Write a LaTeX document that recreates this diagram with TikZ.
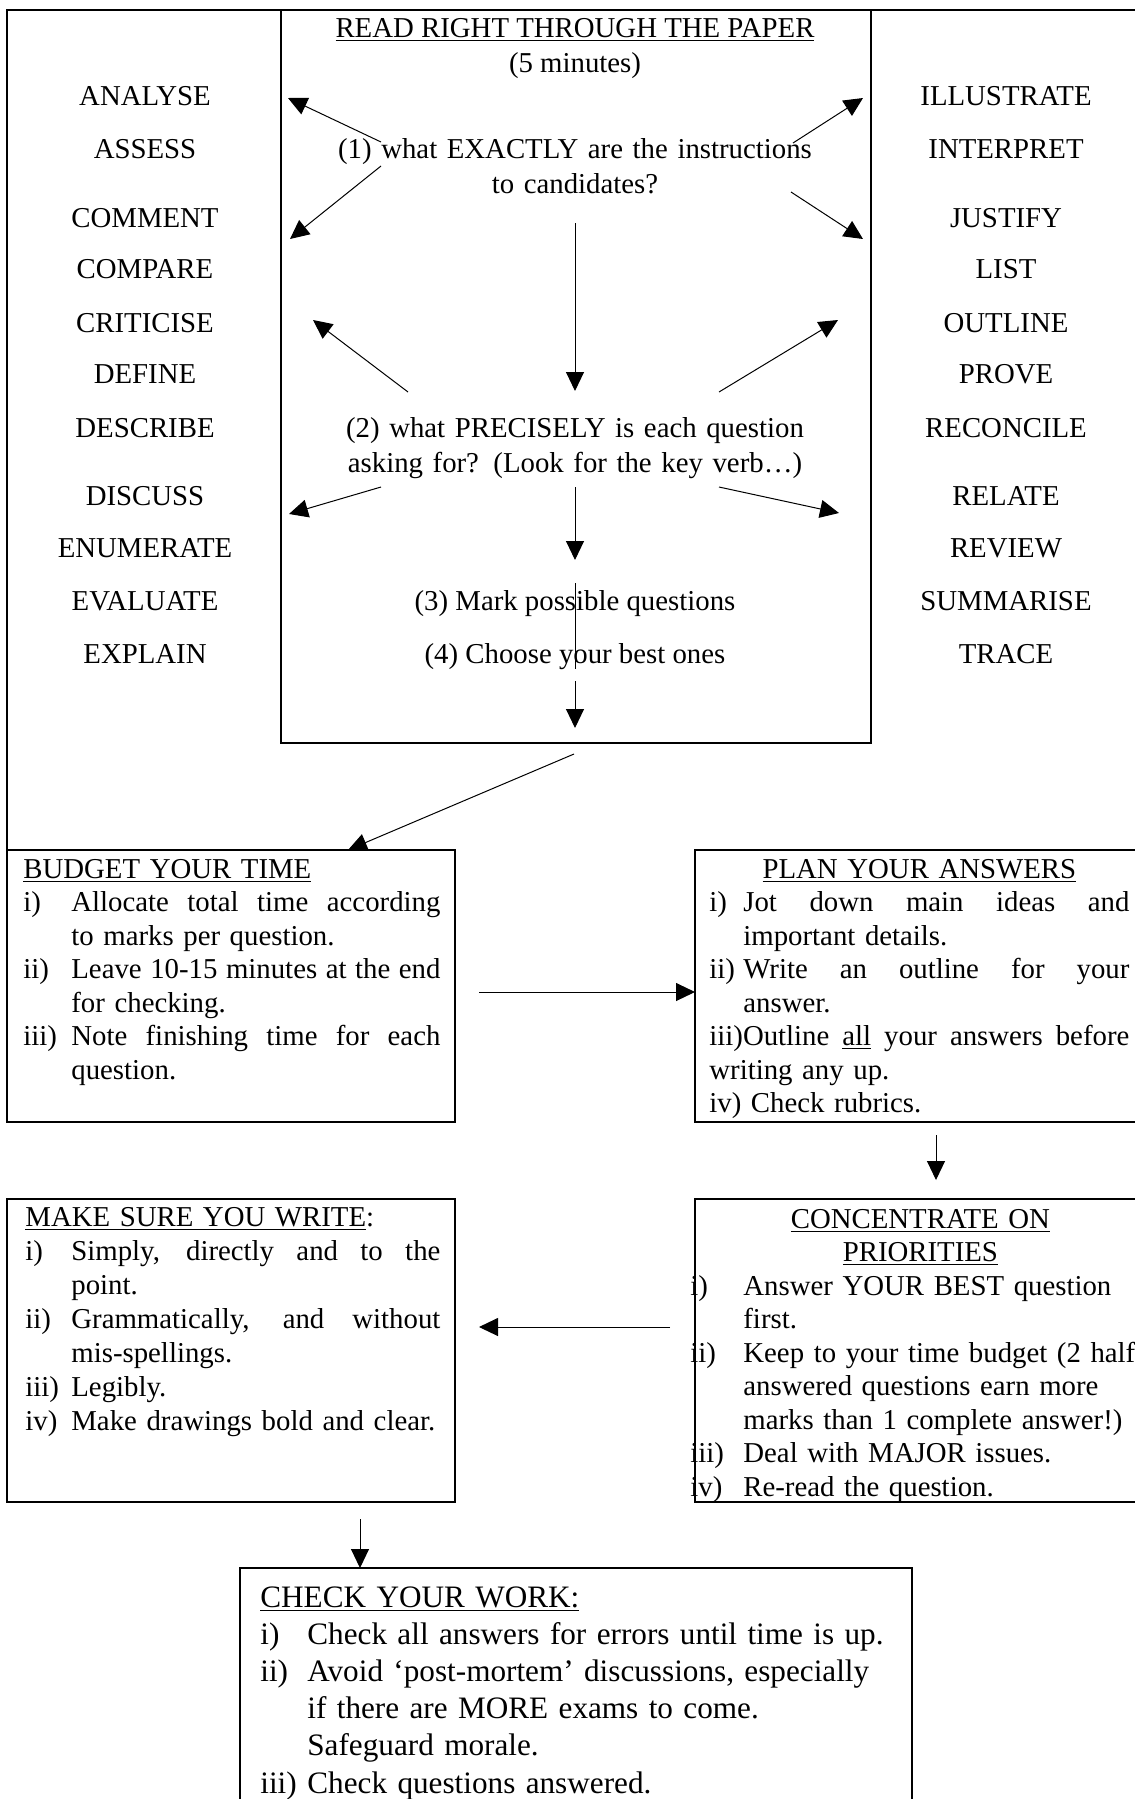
\documentclass[tikz,border=0pt]{standalone}
\usepackage{fontspec}
\setmainfont{Liberation Serif}
\usetikzlibrary{arrows.meta}
\newcommand{\lab}[2]{\makebox[#1][l]{#2}}
\newcommand{\jus}[2]{\leavevmode\hbox to #1{\spaceskip=0.25em plus 1fil\xspaceskip=\spaceskip #2}}
\tikzset{
  box/.style={draw, line width=1pt, inner sep=0pt, outer sep=0pt, anchor=north west},
  arr/.style={-{Triangle[length=9.5pt,width=9pt]}, line width=0.5pt},
  word/.style={font=\fontsize{14.4}{17.5}\selectfont, inner sep=0pt, anchor=base},
  para/.style={font=\fontsize{14.4}{16.75}\selectfont, inner sep=0pt, anchor=base west, align=left},
}
\begin{document}
\begin{tikzpicture}[x=0.5pt,y=-0.5pt]
\useasboundingbox (0,0) rectangle (1135,1799);

\node[box, minimum width=295pt, minimum height=366.5pt] (readbox) at (281,10) {};
\node[box, minimum width=224pt, minimum height=136pt] (budget) at (7,850) {};
\node[box, minimum width=222.5pt, minimum height=136pt] (plan) at (695,850) {};
\node[box, minimum width=224pt, minimum height=151.5pt] (write) at (7,1199) {};
\node[box, minimum width=222.5pt, minimum height=151.5pt] (focus) at (695,1199) {};
\node[box, minimum width=336pt, minimum height=121pt] (check) at (240,1568) {};
\draw[line width=1pt] (budget.north west) -- (7,10) -- (1140,10);

\node[word] (title) at (575,37) {\underline{READ RIGHT THROUGH THE PAPER}};
\node[word] (mins) at (575,72) {(5 minutes)};
\node[word, text width=300pt, align=center] (q1) at (575,158) {(1) what EXACTLY are the instructions\\to candidates?};
\node[word, text width=300pt, align=center] (q2) at (575,437) {(2) what PRECISELY is each question\\asking for? (Look for the key verb…)};
\node[word] (q3) at (575,610) {(3) Mark possible questions};
\node[word] (q4) at (575,663) {(4) Choose your best ones};

\foreach \w/\y in {ANALYSE/105,ASSESS/158,COMMENT/227,COMPARE/278,CRITICISE/332,DEFINE/383,DESCRIBE/437,DISCUSS/505,ENUMERATE/557,EVALUATE/610,EXPLAIN/663}
{
    \node[word] (\w) at (145,\y) {\w};
}
\foreach \w/\y in {ILLUSTRATE/105,INTERPRET/158,JUSTIFY/227,LIST/278,OUTLINE/332,PROVE/383,RECONCILE/437,RELATE/505,REVIEW/557,SUMMARISE/610,TRACE/663}
{
    \node[word] (\w) at (1006,\y) {\w};
}

\coordinate (s1) at (381,142);  \coordinate (e1) at (288,98);
\coordinate (s2) at (381,166);  \coordinate (e2) at (290,239);
\coordinate (s3) at (793,143);  \coordinate (e3) at (863,98);
\coordinate (s4) at (791,192);  \coordinate (e4) at (863,239);
\coordinate (s5) at (575,223);  \coordinate (e5) at (575,391);
\coordinate (s6) at (408,392);  \coordinate (e6) at (313,320);
\coordinate (s7) at (719,392);  \coordinate (e7) at (838,320);
\coordinate (s8) at (381,487);  \coordinate (e8) at (289,514);
\coordinate (s9) at (719,487);  \coordinate (e9) at (839,513);
\coordinate (s10) at (575,487); \coordinate (e10) at (575,560);
\coordinate (s11) at (575,681); \coordinate (e11) at (575,728);
\coordinate (s12) at (574,754); \coordinate (e12) at (348,850);
\foreach \i in {1,...,12}
{
    \draw[arr] (s\i) -- (e\i);
}
\draw[line width=0.5pt] (575,583) -- (575,669);

\node[para, text width=212pt] (budgettxt) at (23,878) {\underline{BUDGET YOUR TIME}\\
\lab{24pt}{i)}\jus{184.5pt}{Allocate total time according}\\
\lab{24pt}{}to marks per question.\\
\lab{24pt}{ii)}\jus{184.5pt}{Leave 10-15 minutes at the end}\\
\lab{24pt}{}for checking.\\
\lab{24pt}{iii)}\jus{184.5pt}{Note finishing time for each}\\
\lab{24pt}{}question.};

\node[para, text width=214pt] (plantxt) at (709,878) {\makebox[210pt]{\underline{PLAN YOUR ANSWERS}}\\
\lab{17pt}{i)}\jus{193pt}{Jot down main ideas and}\\
\lab{17pt}{}important details.\\
\lab{17pt}{ii)}\jus{193pt}{Write an outline for your}\\
\lab{17pt}{}answer.\\
\jus{210pt}{iii)Outline \underline{all} your answers before}\\
writing any up.\\
iv) Check rubrics.};

\node[para, text width=212pt, font=\fontsize{14.4}{17}\selectfont] (writetxt) at (25,1226) {\underline{MAKE SURE YOU WRITE}:\\
\lab{23pt}{i)}\jus{184.5pt}{Simply, directly and to the}\\
\lab{23pt}{}point.\\
\lab{23pt}{ii)}\jus{184.5pt}{Grammatically, and without}\\
\lab{23pt}{}mis-spellings.\\
\lab{23pt}{iii)}Legibly.\\
\lab{23pt}{iv)}Make drawings bold and clear.};

\node[para, text width=232pt] (focustxt) at (690,1228) {\makebox[230pt]{\underline{CONCENTRATE ON}}\\
\makebox[230pt]{\underline{PRIORITIES}}\\
\lab{26.5pt}{i)}Answer YOUR BEST question\\
\lab{26.5pt}{}first.\\
\lab{26.5pt}{ii)}Keep to your time budget (2 half\\
\lab{26.5pt}{}answered questions earn more\\
\lab{26.5pt}{}marks than 1 complete answer!)\\
\lab{26.5pt}{iii)}Deal with MAJOR issues.\\
\lab{26.5pt}{iv)}Re-read the question.};

\node[para, text width=320pt, font=\fontsize{15.6}{18.6}\selectfont] (checktxt) at (260,1607) {\underline{CHECK YOUR WORK:}\\
\lab{23.5pt}{i)}Check all answers for errors until time is up.\\
\lab{23.5pt}{ii)}Avoid ‘post-mortem’ discussions, especially\\
\lab{23.5pt}{}if there are MORE exams to come.\\
\lab{23.5pt}{}Safeguard morale.\\
\lab{23.5pt}{iii)}Check questions answered.};

\coordinate (bp) at (479,992);
\draw[arr] (bp) -- (bp -| plan.west);
\coordinate (pf) at (936,1135);
\draw[arr] (pf) -- (936,1180);
\coordinate (fw) at (670,1327);
\draw[arr] (fw) -- (479,1327);
\coordinate (wc) at (360,1519);
\draw[arr] (wc) -- (wc |- check.north);

\end{tikzpicture}
\end{document}
